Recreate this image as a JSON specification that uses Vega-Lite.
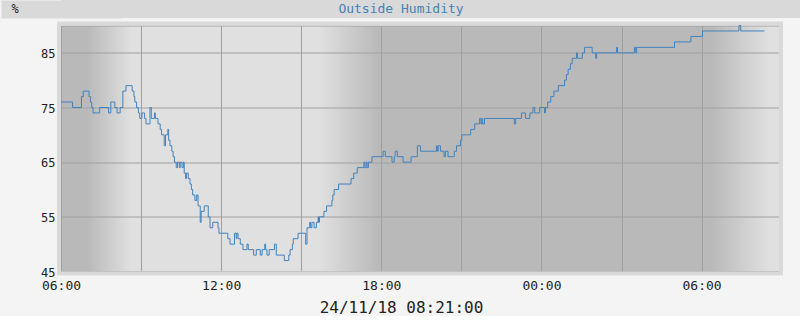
{
  "$schema": "https://vega.github.io/schema/vega-lite/v6.json",
  "background": "#f4f4f4",
  "padding": 0,
  "spacing": 2.5,
  "config": {"view": {"stroke": null}, "font": "DejaVu Sans Mono"},
  "vconcat": [
    {
      "width": 740,
      "height": 18,
      "view": {"fill": "#d9d9d9", "stroke": null},
      "data": {"values": [{"label": "Outside Humidity", "unit": "%"}]},
      "mark": {"type": "text", "font": "DejaVu Sans Mono", "fontSize": 13, "color": "#4682b4", "baseline": "middle", "dx": -30},
      "encoding": {
        "text": {"field": "label"},
        "y": {"field": "unit", "type": "nominal", "axis": {
          "domain": true, "domainColor": "#d9d9d9", "domainWidth": 120, "domainOpacity": 1,
          "ticks": false, "labels": false, "grid": false,
          "title": "%", "titleAngle": 0, "titleAlign": "left", "titleBaseline": "middle",
          "titleX": -50, "titleY": 8, "titleFont": "DejaVu Sans Mono", "titleFontSize": 12,
          "titleFontWeight": "normal", "titleColor": "#222222"
        }}
      }
    },
    {
      "width": 718,
      "height": 246,
      "view": {
        "fill": {"gradient": "linear", "x1": 0, "y1": 0, "x2": 1, "y2": 0, "stops": [
          {"offset": 0, "color": "#b9b9b9"},
          {"offset": 0.036, "color": "#b9b9b9"},
          {"offset": 0.0975, "color": "#e0e0e0"},
          {"offset": 0.359, "color": "#e0e0e0"},
          {"offset": 0.4415, "color": "#b9b9b9"},
          {"offset": 0.905, "color": "#b9b9b9"},
          {"offset": 0.986, "color": "#e0e0e0"},
          {"offset": 1, "color": "#e0e0e0"}
        ]},
        "stroke": "#a0a0a0",
        "strokeWidth": 1
      },
      "data": {"values": [
        {"time": "2018-11-23T06:00", "humidity": 76},
        {"time": "2018-11-23T06:26", "humidity": 75},
        {"time": "2018-11-23T06:46", "humidity": 77},
        {"time": "2018-11-23T06:50", "humidity": 78},
        {"time": "2018-11-23T07:03", "humidity": 77},
        {"time": "2018-11-23T07:06", "humidity": 76},
        {"time": "2018-11-23T07:09", "humidity": 75},
        {"time": "2018-11-23T07:12", "humidity": 74},
        {"time": "2018-11-23T07:27", "humidity": 75},
        {"time": "2018-11-23T07:47", "humidity": 74},
        {"time": "2018-11-23T07:52", "humidity": 76},
        {"time": "2018-11-23T08:01", "humidity": 75},
        {"time": "2018-11-23T08:06", "humidity": 74},
        {"time": "2018-11-23T08:13", "humidity": 75},
        {"time": "2018-11-23T08:19", "humidity": 78},
        {"time": "2018-11-23T08:26", "humidity": 79},
        {"time": "2018-11-23T08:40", "humidity": 78},
        {"time": "2018-11-23T08:44", "humidity": 77},
        {"time": "2018-11-23T08:46", "humidity": 76},
        {"time": "2018-11-23T08:50", "humidity": 75},
        {"time": "2018-11-23T08:54", "humidity": 74},
        {"time": "2018-11-23T08:57", "humidity": 73},
        {"time": "2018-11-23T09:02", "humidity": 74},
        {"time": "2018-11-23T09:08", "humidity": 73},
        {"time": "2018-11-23T09:11", "humidity": 72},
        {"time": "2018-11-23T09:20", "humidity": 75},
        {"time": "2018-11-23T09:23", "humidity": 73},
        {"time": "2018-11-23T09:30", "humidity": 74},
        {"time": "2018-11-23T09:32", "humidity": 73},
        {"time": "2018-11-23T09:38", "humidity": 72},
        {"time": "2018-11-23T09:43", "humidity": 71},
        {"time": "2018-11-23T09:46", "humidity": 70},
        {"time": "2018-11-23T09:52", "humidity": 68},
        {"time": "2018-11-23T09:55", "humidity": 70},
        {"time": "2018-11-23T10:00", "humidity": 71},
        {"time": "2018-11-23T10:02", "humidity": 69},
        {"time": "2018-11-23T10:05", "humidity": 68},
        {"time": "2018-11-23T10:09", "humidity": 67},
        {"time": "2018-11-23T10:12", "humidity": 66},
        {"time": "2018-11-23T10:15", "humidity": 65},
        {"time": "2018-11-23T10:19", "humidity": 64},
        {"time": "2018-11-23T10:22", "humidity": 65},
        {"time": "2018-11-23T10:26", "humidity": 64},
        {"time": "2018-11-23T10:28", "humidity": 65},
        {"time": "2018-11-23T10:32", "humidity": 64},
        {"time": "2018-11-23T10:35", "humidity": 65},
        {"time": "2018-11-23T10:37", "humidity": 63},
        {"time": "2018-11-23T10:40", "humidity": 62},
        {"time": "2018-11-23T10:42", "humidity": 63},
        {"time": "2018-11-23T10:46", "humidity": 62},
        {"time": "2018-11-23T10:50", "humidity": 61},
        {"time": "2018-11-23T10:53", "humidity": 60},
        {"time": "2018-11-23T10:56", "humidity": 59},
        {"time": "2018-11-23T11:01", "humidity": 58},
        {"time": "2018-11-23T11:05", "humidity": 59},
        {"time": "2018-11-23T11:08", "humidity": 57},
        {"time": "2018-11-23T11:13", "humidity": 54},
        {"time": "2018-11-23T11:15", "humidity": 56},
        {"time": "2018-11-23T11:22", "humidity": 57},
        {"time": "2018-11-23T11:31", "humidity": 55},
        {"time": "2018-11-23T11:35", "humidity": 53},
        {"time": "2018-11-23T11:41", "humidity": 54},
        {"time": "2018-11-23T11:53", "humidity": 53},
        {"time": "2018-11-23T11:55", "humidity": 52},
        {"time": "2018-11-23T12:15", "humidity": 51},
        {"time": "2018-11-23T12:20", "humidity": 50},
        {"time": "2018-11-23T12:30", "humidity": 52},
        {"time": "2018-11-23T12:34", "humidity": 51},
        {"time": "2018-11-23T12:35", "humidity": 52},
        {"time": "2018-11-23T12:38", "humidity": 51},
        {"time": "2018-11-23T12:43", "humidity": 50},
        {"time": "2018-11-23T12:49", "humidity": 49},
        {"time": "2018-11-23T12:58", "humidity": 50},
        {"time": "2018-11-23T13:01", "humidity": 49},
        {"time": "2018-11-23T13:13", "humidity": 48},
        {"time": "2018-11-23T13:19", "humidity": 49},
        {"time": "2018-11-23T13:28", "humidity": 48},
        {"time": "2018-11-23T13:32", "humidity": 49},
        {"time": "2018-11-23T13:38", "humidity": 50},
        {"time": "2018-11-23T13:40", "humidity": 49},
        {"time": "2018-11-23T13:43", "humidity": 48},
        {"time": "2018-11-23T13:48", "humidity": 49},
        {"time": "2018-11-23T14:00", "humidity": 50},
        {"time": "2018-11-23T14:04", "humidity": 48},
        {"time": "2018-11-23T14:22", "humidity": 47},
        {"time": "2018-11-23T14:32", "humidity": 48},
        {"time": "2018-11-23T14:35", "humidity": 49},
        {"time": "2018-11-23T14:40", "humidity": 50},
        {"time": "2018-11-23T14:42", "humidity": 51},
        {"time": "2018-11-23T14:53", "humidity": 52},
        {"time": "2018-11-23T15:10", "humidity": 50},
        {"time": "2018-11-23T15:13", "humidity": 53},
        {"time": "2018-11-23T15:19", "humidity": 54},
        {"time": "2018-11-23T15:21", "humidity": 53},
        {"time": "2018-11-23T15:24", "humidity": 54},
        {"time": "2018-11-23T15:29", "humidity": 53},
        {"time": "2018-11-23T15:34", "humidity": 54},
        {"time": "2018-11-23T15:38", "humidity": 55},
        {"time": "2018-11-23T15:39", "humidity": 54},
        {"time": "2018-11-23T15:41", "humidity": 55},
        {"time": "2018-11-23T15:51", "humidity": 56},
        {"time": "2018-11-23T15:57", "humidity": 57},
        {"time": "2018-11-23T16:09", "humidity": 58},
        {"time": "2018-11-23T16:11", "humidity": 59},
        {"time": "2018-11-23T16:14", "humidity": 60},
        {"time": "2018-11-23T16:24", "humidity": 61},
        {"time": "2018-11-23T16:52", "humidity": 62},
        {"time": "2018-11-23T16:58", "humidity": 63},
        {"time": "2018-11-23T17:06", "humidity": 64},
        {"time": "2018-11-23T17:21", "humidity": 65},
        {"time": "2018-11-23T17:23", "humidity": 64},
        {"time": "2018-11-23T17:26", "humidity": 65},
        {"time": "2018-11-23T17:28", "humidity": 64},
        {"time": "2018-11-23T17:31", "humidity": 65},
        {"time": "2018-11-23T17:39", "humidity": 66},
        {"time": "2018-11-23T18:04", "humidity": 67},
        {"time": "2018-11-23T18:09", "humidity": 66},
        {"time": "2018-11-23T18:24", "humidity": 65},
        {"time": "2018-11-23T18:29", "humidity": 66},
        {"time": "2018-11-23T18:31", "humidity": 67},
        {"time": "2018-11-23T18:36", "humidity": 66},
        {"time": "2018-11-23T18:49", "humidity": 65},
        {"time": "2018-11-23T19:07", "humidity": 66},
        {"time": "2018-11-23T19:21", "humidity": 68},
        {"time": "2018-11-23T19:28", "humidity": 67},
        {"time": "2018-11-23T20:04", "humidity": 68},
        {"time": "2018-11-23T20:06", "humidity": 67},
        {"time": "2018-11-23T20:08", "humidity": 68},
        {"time": "2018-11-23T20:13", "humidity": 67},
        {"time": "2018-11-23T20:21", "humidity": 66},
        {"time": "2018-11-23T20:24", "humidity": 67},
        {"time": "2018-11-23T20:30", "humidity": 66},
        {"time": "2018-11-23T20:44", "humidity": 67},
        {"time": "2018-11-23T20:49", "humidity": 68},
        {"time": "2018-11-23T20:58", "humidity": 69},
        {"time": "2018-11-23T21:01", "humidity": 70},
        {"time": "2018-11-23T21:21", "humidity": 71},
        {"time": "2018-11-23T21:30", "humidity": 72},
        {"time": "2018-11-23T21:41", "humidity": 73},
        {"time": "2018-11-23T21:44", "humidity": 72},
        {"time": "2018-11-23T21:46", "humidity": 73},
        {"time": "2018-11-23T21:48", "humidity": 72},
        {"time": "2018-11-23T21:52", "humidity": 73},
        {"time": "2018-11-23T22:59", "humidity": 72},
        {"time": "2018-11-23T23:02", "humidity": 73},
        {"time": "2018-11-23T23:15", "humidity": 74},
        {"time": "2018-11-23T23:24", "humidity": 73},
        {"time": "2018-11-23T23:34", "humidity": 74},
        {"time": "2018-11-23T23:41", "humidity": 75},
        {"time": "2018-11-23T23:45", "humidity": 74},
        {"time": "2018-11-23T23:56", "humidity": 75},
        {"time": "2018-11-24T00:07", "humidity": 74},
        {"time": "2018-11-24T00:09", "humidity": 75},
        {"time": "2018-11-24T00:14", "humidity": 76},
        {"time": "2018-11-24T00:21", "humidity": 77},
        {"time": "2018-11-24T00:28", "humidity": 78},
        {"time": "2018-11-24T00:38", "humidity": 79},
        {"time": "2018-11-24T00:52", "humidity": 80},
        {"time": "2018-11-24T00:56", "humidity": 81},
        {"time": "2018-11-24T01:00", "humidity": 82},
        {"time": "2018-11-24T01:05", "humidity": 83},
        {"time": "2018-11-24T01:09", "humidity": 84},
        {"time": "2018-11-24T01:19", "humidity": 85},
        {"time": "2018-11-24T01:21", "humidity": 84},
        {"time": "2018-11-24T01:32", "humidity": 85},
        {"time": "2018-11-24T01:37", "humidity": 86},
        {"time": "2018-11-24T01:54", "humidity": 85},
        {"time": "2018-11-24T02:02", "humidity": 84},
        {"time": "2018-11-24T02:04", "humidity": 85},
        {"time": "2018-11-24T02:49", "humidity": 86},
        {"time": "2018-11-24T02:51", "humidity": 85},
        {"time": "2018-11-24T03:29", "humidity": 86},
        {"time": "2018-11-24T03:32", "humidity": 85},
        {"time": "2018-11-24T03:34", "humidity": 86},
        {"time": "2018-11-24T04:59", "humidity": 87},
        {"time": "2018-11-24T05:36", "humidity": 88},
        {"time": "2018-11-24T06:02", "humidity": 89},
        {"time": "2018-11-24T07:24", "humidity": 90},
        {"time": "2018-11-24T07:28", "humidity": 89},
        {"time": "2018-11-24T08:21", "humidity": 89}
      ]},
      "layer": [
        {
          "data": {"values": [{}]},
          "mark": {"type": "rect", "filled": false, "stroke": "#d9d9d9", "strokeWidth": 4, "xOffset": -2, "x2Offset": 2, "yOffset": 2, "y2Offset": -2},
          "encoding": {
            "x": {"datum": {"year": 2018, "month": 11, "date": 23, "hours": 6}, "type": "temporal"},
            "x2": {"datum": {"year": 2018, "month": 11, "date": 24, "hours": 8, "minutes": 54}},
            "y": {"datum": 45, "type": "quantitative"},
            "y2": {"datum": 90}
          }
        },
        {
          "mark": {"type": "line", "interpolate": "step-after", "color": "#4182be", "strokeWidth": 1},
          "encoding": {
            "x": {
              "field": "time", "type": "temporal",
              "scale": {"domain": [{"year": 2018, "month": 11, "date": 23, "hours": 6}, {"year": 2018, "month": 11, "date": 24, "hours": 8, "minutes": 54}], "nice": false},
              "axis": {
                "values": [
                  {"year": 2018, "month": 11, "date": 23, "hours": 6},
                  {"year": 2018, "month": 11, "date": 23, "hours": 9},
                  {"year": 2018, "month": 11, "date": 23, "hours": 12},
                  {"year": 2018, "month": 11, "date": 23, "hours": 15},
                  {"year": 2018, "month": 11, "date": 23, "hours": 18},
                  {"year": 2018, "month": 11, "date": 23, "hours": 21},
                  {"year": 2018, "month": 11, "date": 24, "hours": 0},
                  {"year": 2018, "month": 11, "date": 24, "hours": 3},
                  {"year": 2018, "month": 11, "date": 24, "hours": 6}
                ],
                "labelExpr": "hours(datum.value) % 6 == 0 ? timeFormat(datum.value, '%H:%M') : ''",
                "grid": true, "gridColor": "#a0a0a0", "gridWidth": 1, "gridOpacity": 1,
                "domain": false, "ticks": false,
                "labelFont": "DejaVu Sans Mono", "labelFontSize": 13, "labelColor": "#222222",
                "labelPadding": 8, "labelFlush": false, "labelOverlap": false, "labelAngle": 0,
                "title": "24/11/18 08:21:00", "titleFont": "DejaVu Sans Mono", "titleFontSize": 16,
                "titleFontWeight": "normal", "titleColor": "#222222", "titlePadding": 7, "titleX": 340
              }
            },
            "y": {
              "field": "humidity", "type": "quantitative",
              "scale": {"domain": [45, 90], "nice": false, "zero": false},
              "axis": {
                "values": [45, 50, 55, 60, 65, 70, 75, 80, 85, 90],
                "labelExpr": "datum.value % 10 == 5 ? datum.label : ''",
                "grid": true, "gridColor": "#a0a0a0", "gridWidth": 1, "gridOpacity": 1,
                "domain": false, "ticks": false,
                "labelFont": "DejaVu Sans Mono", "labelFontSize": 12, "labelColor": "#222222",
                "labelPadding": 6, "labelOverlap": false, "labelOffset": 0.5,
                "title": null, "minExtent": 60, "maxExtent": 60
              }
            }
          }
        }
      ]
    }
  ]
}
